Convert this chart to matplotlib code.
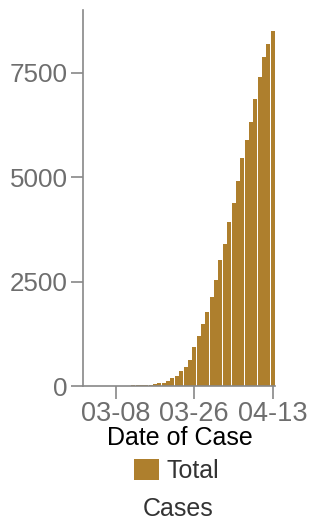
import pandas as pd
import matplotlib.pyplot as plt
from matplotlib.patches import Patch

# Daily cumulative case totals, 2020-03-01 .. 2020-04-13
dates = pd.date_range("2020-03-01", "2020-04-13", freq="D")
totals = [0, 0, 0, 0, 0, 10, 12, 14, 16, 18,
          19, 22, 24, 26, 34, 40, 48, 72, 84, 130,
          199, 250, 368, 462, 629, 940, 1203, 1490, 1777, 2136,
          2543, 3021, 3404, 3930, 4385, 4911, 5462, 5892, 6323, 6873,
          7400, 7878, 8189, 8500]
tick_labels = ["03-08", "03-26", "04-13"]

bar_color = "#ae7f2d"
axis_gray = "#888888"
label_gray = "#6e6e6e"

plt.rcParams["font.family"] = ["Liberation Sans", "DejaVu Sans"]

fig = plt.figure(figsize=(3.1, 5.28), dpi=100)
ax = fig.add_axes([83 / 310, 1 - 386.3 / 528, 192 / 310, 376.3 / 528])

x = list(range(len(dates)))
ax.bar(x, totals, width=0.9, color=bar_color, linewidth=0)

ax.set_xlim(-0.5, len(dates) - 0.5)
ax.set_ylim(0, 9000)
ax.set_yticks([0, 2500, 5000, 7500])

labels = [d.strftime("%m-%d") for d in dates]
ticks = [labels.index(t) for t in tick_labels]
ax.set_xticks(ticks)
ax.set_xticklabels(tick_labels)

for side in ["top", "right"]:
    ax.spines[side].set_visible(False)
for side in ["left", "bottom"]:
    ax.spines[side].set_color(axis_gray)
    ax.spines[side].set_linewidth(1.2)

ax.tick_params(axis="y", colors=axis_gray, length=9, width=1.2,
               labelsize=18.7, labelcolor=label_gray, pad=2)
ax.tick_params(axis="x", colors=axis_gray, length=9, width=1.2,
               labelsize=19.5, labelcolor=label_gray, pad=1.5)

fig.text(180 / 310, 1 - 438 / 528, "Date of Case", ha="center",
         va="center", fontsize=18, color="black")

handle = Patch(facecolor=bar_color, edgecolor="none")
fig.legend([handle], ["Total"], loc="center",
           bbox_to_anchor=(177 / 310, 1 - 471 / 528), frameon=False,
           fontsize=18, labelcolor="#333333", handlelength=1.0,
           handleheight=0.9, handletextpad=0.3, borderpad=0)
fig.text(178 / 310, 1 - 509 / 528, "Cases", ha="center", va="center",
         fontsize=18, color="#333333")

fig.savefig("out.png", dpi=100)
